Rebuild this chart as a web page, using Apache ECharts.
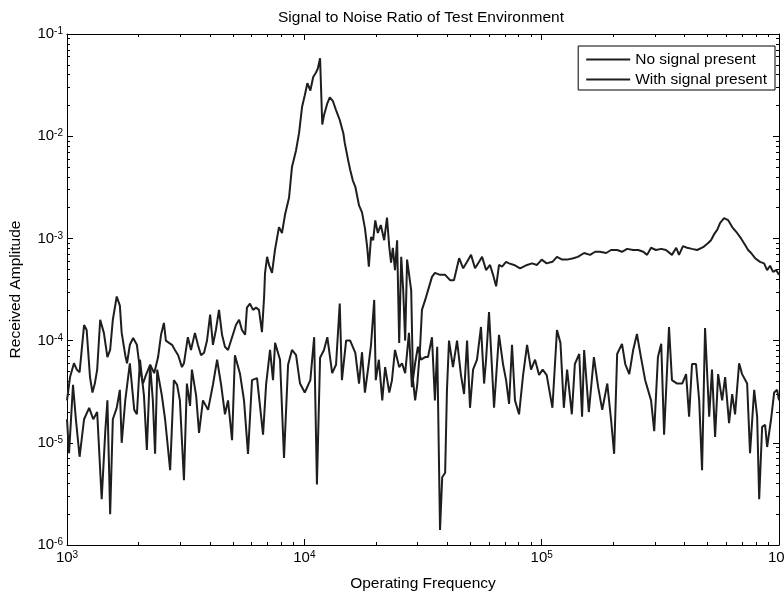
<!DOCTYPE html>
<html><head><meta charset="utf-8">
<script src="https://cdn.jsdelivr.net/npm/echarts@6/dist/echarts.min.js"></script>
<style>html,body{margin:0;padding:0;background:#fff}#chart{width:784px;height:597px}</style>
</head><body><div id="chart"></div>
<script>
const titleText = 'Signal to Noise Ratio of Test Environment';
const xAxisTitle = 'Operating Frequency';
const yAxisTitle = 'Received Amplitude';
const seriesNames = ['No signal present', 'With signal present'];

const xRange = [1e3, 1e6];
const yRange = [1e-6, 1e-1];
const xDecades = [1e3, 1e4, 1e5, 1e6];
const yDecades = [1e-6, 1e-5, 1e-4, 1e-3, 1e-2, 1e-1];

const noSignalFreq = [1000,1020,1060,1090,1130,1180,1240,1290,1340,1400,1450,1480,1520,1560,1620,1670,1700,1760,1840,1920,1970,2030,2110,2170,2240,2300,2350,2400,2510,2590,2720,2820,2910,2990,3110,3200,3300,3360,3500,3600,3740,3930,4120,4290,4460,4630,4770,4960,5100,5360,5570,5790,6020,6320,6700,6900,7170,7380,7530,7900,8210,8540,8870,9230,9590,
10040,10600,11000,11300,11650,12100,12500,13100,13600,14100,14400,15000,15600,16400,17000,17500,18000,18600,19100,19700,20000,20600,21300,21900,22800,23400,24100,25100,25800,26600,27600,28400,29300,30100,31000,32300,33200,34500,35500,36300,37300,38100,39200,39900,40700,42300,44000,45700,47100,48500,49900,51400,53400,55500,57200,58300,60000,61800,63000,66100,68800,70800,72900,75000,77200,80300,83500,86800,90200,93800,97500,
101000,105000,111000,116000,120000,124000,128000,134000,138000,144000,148000,151000,158000,166000,173000,180000,189000,196000,202000,208000,218000,225000,234000,243000,252000,262000,273000,289000,298000,309000,319000,328000,344000,354000,372000,391000,406000,418000,430000,447000,461000,474000,488000,508000,522000,538000,554000,576000,593000,616000,635000,653000,679000,699000,734000,755000,786000,809000,825000,849000,874000,891000,926000,954000,982000,1000000];

const noSignalAmp = [1.7e-5,7.9e-6,3.7e-5,1.7e-5,7.3e-6,1.7e-5,2.2e-5,1.7e-5,2.0e-5,2.8e-6,
1.3e-5,2.6e-5,2.0e-6,1.7e-5,2.2e-5,3.3e-5,1.0e-5,2.6e-5,6.0e-5,2.1e-5,
1.9e-5,6.5e-5,2.9e-5,8.5e-6,5.8e-5,2.6e-5,7.8e-6,5.2e-5,2.9e-5,1.7e-5,
5.4e-6,4.1e-5,3.7e-5,2.6e-5,4.3e-6,3.8e-5,2.3e-5,5.2e-5,2.9e-5,1.25e-5,
2.6e-5,2.1e-5,3.7e-5,6.5e-5,3.7e-5,1.9e-5,2.6e-5,1.06e-5,7.2e-5,4.7e-5,
2.6e-5,7.8e-6,4.1e-5,4.3e-5,1.2e-5,3.7e-5,8.1e-5,4.1e-5,9.5e-5,6.5e-5,
7.1e-6,5.8e-5,8.1e-5,7.2e-5,3.8e-5,
3.1e-5,4.1e-5,1.08e-4,3.9e-6,6.8e-5,8.1e-5,1.08e-4,4.8e-5,5.8e-5,2.3e-4,
4.1e-5,1.0e-4,1.0e-4,7.6e-5,3.8e-5,7.7e-5,3.1e-5,5.5e-5,9.1e-5,2.5e-4,
4.1e-5,6.5e-5,2.6e-5,5.5e-5,3.1e-5,4.1e-5,8.1e-5,5.5e-5,6.0e-5,4.8e-5,
1.19e-4,3.5e-5,6.0e-5,8.7e-5,6.5e-5,6.9e-5,6.9e-5,1.08e-4,2.6e-5,8.7e-5,
1.4e-6,4.6e-6,5.1e-6,3.3e-5,1.0e-4,5.5e-5,1.0e-4,4.6e-5,3.0e-5,1.0e-4,
2.2e-5,5.2e-5,6.5e-5,1.36e-4,3.8e-5,6.5e-5,1.9e-4,5.2e-5,2.2e-5,1.14e-4,
5.8e-5,4.1e-5,2.4e-5,9.1e-5,2.6e-5,1.9e-5,4.6e-5,9.1e-5,5.2e-5,6.5e-5,4.6e-5,
5.2e-5,4.6e-5,2.2e-5,1.27e-4,9.5e-5,2.2e-5,5.2e-5,1.9e-5,5.9e-5,7.4e-5,
1.8e-5,8.1e-5,2.0e-5,6.9e-5,3.5e-5,2.1e-5,3.8e-5,1.7e-5,7.8e-6,7.4e-5,
9.3e-5,5.9e-5,4.7e-5,8.1e-5,1.16e-4,6.9e-5,4.1e-5,2.6e-5,1.3e-5,6.9e-5,
9.3e-5,1.2e-5,1.36e-4,4.1e-5,3.8e-5,3.8e-5,4.7e-5,1.8e-5,5.9e-5,5.9e-5,
2.6e-5,5.4e-6,1.33e-4,1.8e-5,5.2e-5,1.14e-5,4.7e-5,2.6e-5,4.4e-5,1.56e-5,
3.0e-5,1.9e-5,6.0e-5,4.7e-5,3.8e-5,7.9e-6,3.3e-5,1.8e-5,2.8e-6,1.43e-5,
1.5e-5,9.1e-6,1.7e-5,3.1e-5,3.3e-5,2.6e-5];

const withSignalFreq = [1000,1030,1070,1100,1130,1180,1210,1250,1280,1310,
1340,1380,1430,1480,1520,1560,1620,1670,1700,1760,
1790,1840,1900,1970,2030,2090,2150,2240,2330,2420,
2490,2560,2610,2690,2770,2850,2940,3050,3110,3230,
3330,3460,3560,3670,3780,3890,4010,4120,4240,4370,
4500,4630,4770,4960,5150,5310,5460,5630,5730,5900,
6080,6260,6440,6630,6770,6830,6970,7100,7310,7520,
7820,8050,8290,8620,8870,9230,9500,9780,
10040,10300,10600,10900,11200,11400,11650,11900,12100,12500,12800,13200,13600,14100,
14600,14800,15300,15600,16000,16400,17000,17500,18000,
18400,18700,19100,19500,19900,20400,21000,21700,22300,22800,23200,23600,24100,24600,
25100,25600,26100,26600,27100,27600,28200,28700,29300,29900,
30700,31300,32300,33200,34500,35500,37300,39200,41100,42700,
44900,46700,48500,50400,52400,54500,56100,58300,60600,62400,64300,66100,68100,70800,72900,76500,81100,86800,91100,95600,
100000,105000,111000,116000,122000,128000,136000,142000,151000,160000,168000,176000,187000,196000,208000,
218000,229000,243000,255000,268000,278000,289000,303000,319000,334000,354000,369000,379000,394000,410000,430000,452000,479000,503000,517000,
533000,549000,565000,587000,610000,635000,666000,692000,720000,741000,763000,793000,832000,865000,891000,917000,944000,972000,1000000];

const withSignalAmp = [2.6e-5,4.4e-5,6.0e-5,5.2e-5,4.9e-5,1.42e-4,1.27e-4,4.4e-5,3.1e-5,3.8e-5,
5.2e-5,1.6e-4,1.19e-4,6.9e-5,8.1e-5,1.6e-4,2.7e-4,2.2e-4,1.19e-4,7.2e-5,
6.0e-5,9.1e-5,1.06e-4,9.1e-5,5.2e-5,3.8e-5,4.6e-5,5.8e-5,4.8e-5,6.9e-5,
1.14e-4,1.49e-4,1.0e-4,9.5e-5,9.1e-5,8.1e-5,7.2e-5,5.5e-5,6.0e-5,1.08e-4,
8.1e-5,1.19e-4,9.1e-5,7.2e-5,7.6e-5,1.0e-4,1.8e-4,9.1e-5,1.27e-4,2.0e-4,
1.14e-4,8.7e-5,8.1e-5,1.08e-4,1.42e-4,1.6e-4,1.27e-4,1.14e-4,2.1e-4,2.3e-4,
2.0e-4,2.1e-4,2.0e-4,1.21e-4,2.7e-4,4.6e-4,6.6e-4,5.5e-4,4.6e-4,7.7e-4,
1.29e-3,1.13e-3,1.7e-3,2.5e-3,5.0e-3,7.3e-3,1.07e-2,1.93e-2,
2.5e-2,3.3e-2,2.8e-2,3.8e-2,4.2e-2,4.6e-2,5.8e-2,1.3e-2,1.6e-2,2.1e-2,2.4e-2,2.2e-2,1.8e-2,1.44e-2,
1.07e-2,8.6e-3,5.8e-3,4.7e-3,3.7e-3,3.2e-3,2.1e-3,1.8e-3,1.26e-3,
8.2e-4,5.3e-4,1.03e-3,9.6e-4,1.5e-3,1.13e-3,1.35e-3,9.6e-4,1.6e-3,8.2e-4,5.8e-4,8.1e-4,4.9e-4,9.6e-4,
9.5e-5,6.6e-4,3.1e-4,1.0e-4,6.2e-4,6.2e-4,3.1e-4,4.1e-5,2.6e-5,3.7e-5,
8.1e-5,2.0e-4,2.5e-4,3.1e-4,4.2e-4,4.6e-4,4.4e-4,4.4e-4,3.9e-4,3.9e-4,
6.4e-4,5.1e-4,5.9e-4,6.9e-4,5.1e-4,5.9e-4,6.6e-4,4.9e-4,5.5e-4,4.4e-4,3.4e-4,5.5e-4,5.3e-4,5.9e-4,5.7e-4,5.5e-4,5.1e-4,5.5e-4,5.7e-4,5.5e-4,
6.2e-4,5.7e-4,5.9e-4,6.6e-4,6.2e-4,6.2e-4,6.4e-4,6.6e-4,7.2e-4,6.9e-4,7.4e-4,7.4e-4,7.2e-4,7.7e-4,7.7e-4,
7.4e-4,7.9e-4,7.7e-4,7.7e-4,7.4e-4,6.9e-4,8.1e-4,7.7e-4,7.9e-4,7.7e-4,6.9e-4,8.1e-4,6.9e-4,8.4e-4,8.1e-4,7.9e-4,7.7e-4,8.2e-4,9.0e-4,9.6e-4,
1.1e-3,1.21e-3,1.42e-3,1.58e-3,1.51e-3,1.29e-3,1.13e-3,1.0e-3,8.6e-4,7.7e-4,7.2e-4,6.4e-4,5.9e-4,5.7e-4,4.9e-4,5.4e-4,4.7e-4,4.9e-4,4.4e-4];

function minorTicks(decades) {
  const out = [];
  for (let i = 0; i < decades.length - 1; i++) {
    for (let m = 2; m <= 9; m++) out.push(m * decades[i]);
  }
  return out;
}
const xMinor = minorTicks(xDecades);
const yMinor = minorTicks(yDecades);

const FONT = 'Liberation Sans, Arial, Helvetica, sans-serif';
const INK = '#000';
const LINE = '#1e1e1e';

const supRich = {
  b: { fontSize: 15, fontFamily: FONT, color: INK, lineHeight: 15, verticalAlign: 'bottom', padding: [6, 0, 0, 0] },
  s: { fontSize: 10, fontFamily: FONT, color: INK, lineHeight: 10, verticalAlign: 'top' }
};
function powLabel(v) {
  const e = Math.round(Math.log10(v));
  return '{b|10}{s|' + e + '}';
}

function makeAxis(kind, position, isMajor, withLabels) {
  const range = kind === 'x' ? xRange : yRange;
  const ax = {
    type: 'log', logBase: 10, min: range[0], max: range[1], position: position,
    axisLine: { show: isMajor, onZero: false, lineStyle: { color: INK, width: 1 } },
    axisTick: { show: true, inside: true, length: isMajor ? 6 : 3, lineStyle: { color: INK, width: 1 } },
    axisLabel: { show: withLabels },
    splitLine: { show: false },
    minorTick: { show: false },
    axisPointer: { show: false },
    silent: true
  };
  if (!isMajor) {
    ax.axisTick.customValues = kind === 'x' ? xMinor : yMinor;
  }
  if (withLabels) {
    ax.axisLabel = { show: true, formatter: powLabel, rich: supRich, margin: kind === 'x' ? 5 : 4 };
  }
  return ax;
}

const xAxes = [
  makeAxis('x', 'bottom', true, true),
  makeAxis('x', 'bottom', false, false),
  makeAxis('x', 'top', true, false),
  makeAxis('x', 'top', false, false)
];
xAxes[0].name = xAxisTitle;
xAxes[0].nameLocation = 'middle';
xAxes[0].nameGap = 31;
xAxes[0].nameTextStyle = { fontSize: 15.5, fontFamily: FONT, color: INK };

const yAxes = [
  makeAxis('y', 'left', true, true),
  makeAxis('y', 'left', false, false),
  makeAxis('y', 'right', true, false),
  makeAxis('y', 'right', false, false)
];
yAxes[0].name = yAxisTitle;
yAxes[0].nameLocation = 'middle';
yAxes[0].nameGap = 43;
yAxes[0].nameTextStyle = { fontSize: 15.5, fontFamily: FONT, color: INK };

function pairs(xs, ys) { return xs.map((x, i) => [x, ys[i]]); }

const chart = echarts.init(document.getElementById('chart'), null, { renderer: 'canvas' });
chart.setOption({
  animation: false,
  backgroundColor: '#fff',
  title: {
    text: titleText, left: 278, top: 10, padding: 0,
    textStyle: { fontSize: 15.5, fontWeight: 'normal', fontFamily: FONT, color: INK }
  },
  legend: {
    data: seriesNames, orient: 'vertical', right: 9, top: 46,
    icon: 'rect',
    backgroundColor: '#fff', borderColor: INK, borderWidth: 1, borderRadius: 0,
    padding: [5, 8, 2, 8], itemWidth: 44, itemHeight: 2, itemGap: 3,
    itemStyle: { color: LINE, borderWidth: 0 },
    textStyle: { fontSize: 15.5, fontFamily: FONT, color: INK, lineHeight: 17 }
  },
  grid: { left: 67, right: 5, top: 34, bottom: 52, containLabel: false, outerBoundsMode: 'none' },
  xAxis: xAxes,
  yAxis: yAxes,
  series: [
    { name: seriesNames[0], type: 'line', xAxisIndex: 0, yAxisIndex: 0, data: pairs(noSignalFreq, noSignalAmp),
      symbol: 'none', showSymbol: false, lineStyle: { color: LINE, width: 2 }, itemStyle: { color: LINE } },
    { name: seriesNames[1], type: 'line', xAxisIndex: 0, yAxisIndex: 0, data: pairs(withSignalFreq, withSignalAmp),
      symbol: 'none', showSymbol: false, lineStyle: { color: LINE, width: 2 }, itemStyle: { color: LINE } }
  ]
});
</script>
</body></html>
